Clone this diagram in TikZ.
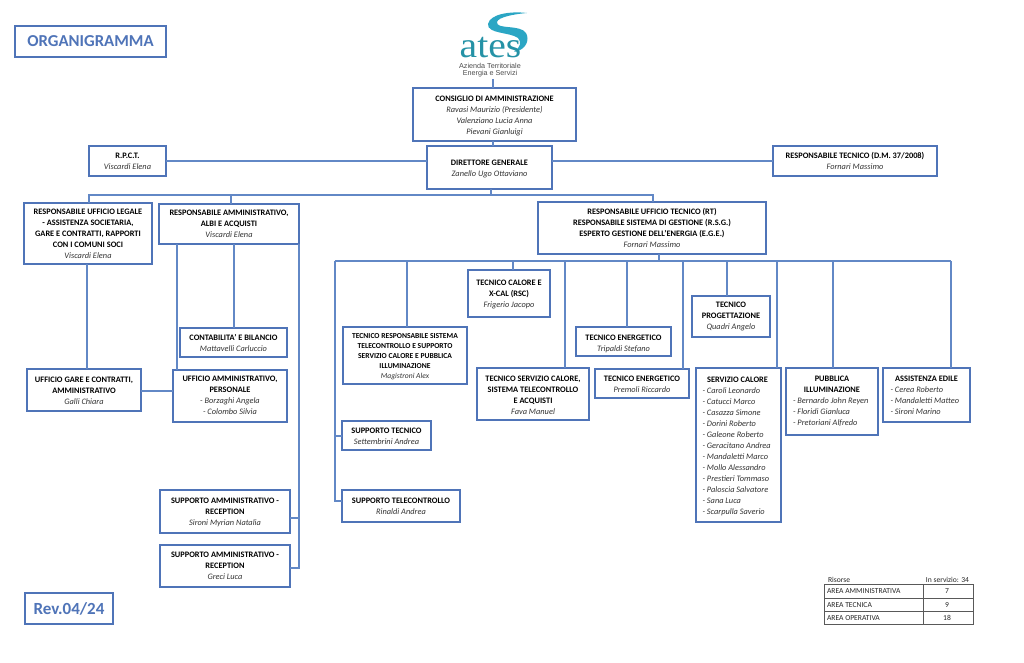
\documentclass[tikz,border=0pt]{standalone}
\usepackage{fontspec}
\setmainfont{Carlito}
\newfontfamily\logofont{Liberation Serif}
\newfontfamily\logosans{Liberation Sans}
\definecolor{orgblue}{HTML}{4F74B8}
\definecolor{linkblue}{HTML}{6288C6}
\definecolor{logoteal}{HTML}{2592A6}
\definecolor{swoosh}{HTML}{2BA6C4}
\definecolor{namegray}{HTML}{333333}
\newcommand{\T}[1]{\textbf{#1}}
\newcommand{\N}[1]{{\color{namegray}\itshape #1}}
\newcommand{\bx}[7][]{%
  \pgfmathsetmacro{\bw}{#5-#3}\pgfmathsetmacro{\bh}{#6-#4}%
  \pgfmathsetmacro{\cx}{(#3+#5)/2}\pgfmathsetmacro{\cy}{(#4+#6)/2}%
  \node[orgbox,minimum width=\bw pt,minimum height=\bh pt] (#2) at (\cx,\cy) {};
  \node[boxtext,#1] (#2-text) at (\cx,\cy) {#7};}
\tikzset{
  orgbox/.style={draw=orgblue,line width=1.9pt,fill=white,inner sep=0pt,outer sep=0pt},
  boxtext/.style={align=center,inner sep=0pt,outer sep=0pt,font=\fontsize{8.35}{11}\selectfont},
  small/.style={font=\fontsize{7.6}{10}\selectfont},
  link/.style={draw=linkblue,line width=1.05pt},
  tabtext/.style={font=\fontsize{7.6}{9}\selectfont,inner sep=0pt,outer sep=0pt,text=black!85},
  title/.style={text=orgblue,font=\bfseries\fontsize{16.7}{18}\selectfont}
}
\begin{document}
\begin{tikzpicture}[x=1pt,y=-1pt]
\useasboundingbox (0,0) rectangle (1024,663);
% logo
\fill[swoosh] (527,13) .. controls (510,11) and (490,14) .. (488,24) .. controls (487,34) and (510,32) .. (518,38) .. controls (522,42) and (520,48) .. (514,52) .. controls (526,50) and (530,40) .. (526,33) .. controls (520,24) and (496,30) .. (497,22) .. controls (498,17) and (515,14) .. (527,13) -- cycle;
\node[inner sep=0pt,text=logoteal,xscale=1.1,font=\logofont\fontsize{36}{36}\selectfont,anchor=base,text height=15pt,text depth=0pt] (logo) at (490.5,58) {ates};
\node[inner sep=0pt,align=center,text=black!70,font=\logosans\fontsize{7.2}{7.4}\selectfont] (logosub) at (490,70) {Azienda Territoriale\\Energia e Servizi};
\coordinate (logostem) at (493,79);
% junctions
\coordinate (dgbus) at (491,195);
\coordinate (busl) at (89,195);
\coordinate (busm) at (231,195);
\coordinate (busr) at (653,195);
\coordinate (rutbus) at (659,261);
\coordinate (b1) at (335,261);
\coordinate (b2) at (407,261);
\coordinate (b3) at (513,261);
\coordinate (b4) at (565,261);
\coordinate (b5) at (627,261);
\coordinate (b6) at (683,261);
\coordinate (b7) at (727,261);
\coordinate (b8) at (777,261);
\coordinate (b9) at (833,261);
\coordinate (b10) at (951,261);
\coordinate (al) at (177,244);
\coordinate (am) at (234,244);
\coordinate (ar) at (299,244);
\coordinate (ls) at (87,264);
\coordinate (s1) at (299,518);
\coordinate (s2) at (299,568);
\coordinate (k1) at (335,436);
\coordinate (k2) at (335,501);
\coordinate (gu) at (0,391);
% boxes
\bx[title]{org}{15}{26}{166}{57}{ORGANIGRAMMA}
\bx[title,font=\bfseries\fontsize{17}{20}\selectfont]{rev}{25}{593}{113}{624}{Rev.04/24}
\bx[yshift=-1pt]{cda}{413}{88}{576}{141}{\T{CONSIGLIO DI AMMINISTRAZIONE}\\\N{Ravasi Maurizio (Presidente)}\\\N{Valenziano Lucia Anna}\\\N{Pievani Gianluigi}}
\bx[yshift=-1pt]{dg}{427}{146}{552}{189}{\T{DIRETTORE GENERALE}\\\N{Zanello Ugo Ottaviano}}
\bx{rpct}{89}{146}{166}{176}{\T{R.P.C.T.}\\\N{Viscardi Elena}}
\bx{rt}{773}{146}{937}{176}{\T{RESPONSABILE TECNICO (D.M. 37/2008)}\\\N{Fornari Massimo}}
\bx{leg}{24}{203}{152}{264}{\T{RESPONSABILE UFFICIO LEGALE}\\\T{- ASSISTENZA SOCIETARIA,}\\\T{GARE E CONTRATTI, RAPPORTI}\\\T{CON I COMUNI SOCI}\\\N{Viscardi Elena}}
\bx[yshift=0pt]{amm}{159}{204}{299}{244}{\T{RESPONSABILE AMMINISTRATIVO,}\\\T{ALBI E ACQUISTI}\\\N{Viscardi Elena}}
\bx{cont}{180}{328}{287}{357}{\T{CONTABILITA' E BILANCIO}\\\N{Mattavelli Carluccio}}
\bx[yshift=-0.5pt]{gare}{27}{369}{141}{411}{\T{UFFICIO GARE E CONTRATTI,}\\\T{AMMINISTRATIVO}\\\N{Galli Chiara}}
\bx[yshift=1pt]{uffa}{173}{370}{287}{422}{\T{UFFICIO AMMINISTRATIVO,}\\\T{PERSONALE}\\\N{- Borzaghi Angela}\\\N{- Colombo Silvia}}
\bx[yshift=-1pt]{sup1}{160}{490}{290}{533}{\T{SUPPORTO AMMINISTRATIVO -}\\\T{RECEPTION}\\\N{Sironi Myrian Natalia}}
\bx{sup2}{160}{545}{290}{587}{\T{SUPPORTO AMMINISTRATIVO -}\\\T{RECEPTION}\\\N{Greci Luca}}
\bx{rut}{538}{202}{766}{254}{\T{RESPONSABILE UFFICIO TECNICO (RT)}\\\T{RESPONSABILE SISTEMA DI GESTIONE (R.S.G.)}\\\T{ESPERTO GESTIONE DELL'ENERGIA (E.G.E.)}\\\N{Fornari Massimo}}
\bx[small,yshift=-1pt]{trss}{343}{327}{467}{384}{\T{TECNICO RESPONSABILE SISTEMA}\\\T{TELECONTROLLO E SUPPORTO}\\\T{SERVIZIO CALORE E PUBBLICA}\\\T{ILLUMINAZIONE}\\\N{Magistroni Alex}}
\bx[yshift=-1pt]{stec}{342}{421}{431}{450}{\T{SUPPORTO TECNICO}\\\N{Settembrini Andrea}}
\bx{stel}{342}{490}{460}{522}{\T{SUPPORTO TELECONTROLLO}\\\N{Rinaldi Andrea}}
\bx[yshift=-0.5pt]{tcal}{468}{270}{550}{317}{\T{TECNICO CALORE E}\\\T{X-CAL (RSC)}\\\N{Frigerio Jacopo}}
\bx[yshift=-1pt]{tsc}{477}{368}{589}{420}{\T{TECNICO SERVIZIO CALORE,}\\\T{SISTEMA TELECONTROLLO}\\\T{E ACQUISTI}\\\N{Fava Manuel}}
\bx[yshift=-2pt]{ten1}{576}{327}{671}{356}{\T{TECNICO ENERGETICO}\\\N{Tripaldi Stefano}}
\bx[yshift=-1pt]{ten2}{595}{369}{689}{398}{\T{TECNICO ENERGETICO}\\\N{Premoli Riccardo}}
\bx{prog}{692}{296}{770}{337}{\T{TECNICO}\\\T{PROGETTAZIONE}\\\N{Quadri Angelo}}
\bx[align=left,yshift=-1pt,xshift=-1pt]{scal}{696}{368}{781}{522}{\makebox[70pt][c]{\T{SERVIZIO CALORE}}\\\N{- Caroli Leonardo}\\\N{- Catucci Marco}\\\N{- Casazza Simone}\\\N{- Dorini Roberto}\\\N{- Galeone Roberto}\\\N{- Geracitano Andrea}\\\N{- Mandaletti Marco}\\\N{- Mollo Alessandro}\\\N{- Prestieri Tommaso}\\\N{- Paloscia Salvatore}\\\N{- Sana Luca}\\\N{- Scarpulla Saverio}}
\bx[align=left]{pubb}{786}{368}{878}{435}{\makebox[78pt][c]{\T{PUBBLICA}}\\\makebox[78pt][c]{\T{ILLUMINAZIONE}}\\\N{- Bernardo John Reyen}\\\N{- Floridi Gianluca}\\\N{- Pretoriani Alfredo}}
\bx[align=left]{edil}{883}{368}{970}{422}{\makebox[72pt][c]{\T{ASSISTENZA EDILE}}\\\N{- Cerea Roberto}\\\N{- Mandaletti Matteo}\\\N{- Sironi Marino}}
% connectors
\draw[link] (logostem) -- (logostem |- cda.north);
\draw[link] (logostem |- cda.south) -- (logostem |- dg.north);
\draw[link] (rpct.east) -- (dg.west |- rpct.east);
\draw[link] (dg.east |- rt.west) -- (rt.west);
\draw[link] (dgbus |- dg.south) -- (dgbus);
\draw[link] (busl |- leg.north) -- (busl) -- (busr) -- (busr |- rut.north);
\draw[link] (busm) -- (busm |- amm.north);
\draw[link] (ls) -- (ls |- gare.north);
\draw[link] (gare.east |- gu) -- (uffa.west |- gu);
\draw[link] (al) -- (al |- uffa.north);
\draw[link] (am) -- (am |- cont.north);
\draw[link] (ar) -- (s2) -- (s2 -| sup2.east);
\draw[link] (s1) -- (s1 -| sup1.east);
\draw[link] (rutbus |- rut.south) -- (rutbus);
\draw[link] (b1) -- (b10);
\draw[link] (b1) -- (k2) -- (k2 -| stel.west);
\draw[link] (k1) -- (k1 -| stec.west);
\draw[link] (b2) -- (b2 |- trss.north);
\draw[link] (b3) -- (b3 |- tcal.north);
\draw[link] (b4) -- (b4 |- tsc.north);
\draw[link] (b5) -- (b5 |- ten1.north);
\draw[link] (b6) -- (b6 |- ten2.north);
\draw[link] (b7) -- (b7 |- prog.north);
\draw[link] (b8) -- (b8 |- scal.north);
\draw[link] (b9) -- (b9 |- pubb.north);
\draw[link] (b10) -- (b10 |- edil.north);
% table
\node[tabtext,anchor=west] (tr) at (828,580) {Risorse};
\node[tabtext,anchor=east] (ts) at (969,580) {In servizio: 34};
\draw[line width=0.6pt,black!65] (824,584) rectangle (973,624);
\draw[line width=0.6pt,black!65] (824,598) -- (973,598) (824,611) -- (973,611) (923,584) -- (923,624);
\node[tabtext,anchor=west] (a1) at (827,591) {AREA AMMINISTRATIVA};
\node[tabtext,anchor=west] (a2) at (827,605) {AREA TECNICA};
\node[tabtext,anchor=west] (a3) at (827,618) {AREA OPERATIVA};
\node[tabtext] (v1) at (947,591) {7};
\node[tabtext] (v2) at (947,605) {9};
\node[tabtext] (v3) at (947,618) {18};
\end{tikzpicture}
\end{document}
